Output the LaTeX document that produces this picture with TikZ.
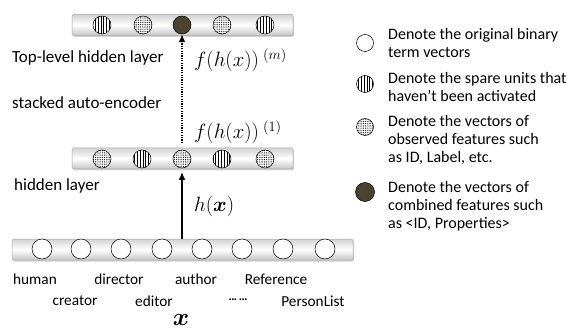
\documentclass[tikz,border=0pt]{standalone}
\usepackage{amsmath}
\usepackage{fontspec}
\setmainfont{Carlito}
\usetikzlibrary{patterns.meta,shadows,arrows.meta}
\definecolor{darkunit}{HTML}{4B4330}
\tikzset{
  bar/.style={draw=gray!70, line width=0.5pt, rounded corners=1.5pt,
    top color=gray!35, bottom color=gray!45, middle color=white,
    drop shadow={opacity=0.35, shadow xshift=1pt, shadow yshift=-1.5pt},
    minimum height=21pt, inner sep=0pt},
  unit/.style={circle, draw=black, line width=0.5pt, minimum size=18pt, inner sep=0pt},
  openu/.style={unit, fill=white, minimum size=20pt},
  vlines/.style={unit, fill=white, postaction={pattern={Lines[angle=90,distance=2.8pt,line width=0.6pt]}}},
  dotsu/.style={unit, fill=white, postaction={pattern={Dots[distance=1.8pt,radius=0.5pt]}}},
  darku/.style={unit, fill=darkunit},
  lbl/.style={font=\fontsize{17}{20}\selectfont, inner sep=0pt},
  wrd/.style={font=\fontsize{15.3}{18}\selectfont, inner sep=0pt},
  leg/.style={font=\fontsize{16}{18.3}\selectfont, inner sep=0pt, align=left, anchor=north west},
  mth/.style={inner sep=0pt, anchor=west, font=\fontsize{19.5}{22}\selectfont},
}
\begin{document}
\begin{tikzpicture}[x=1pt,y=-1pt]
\useasboundingbox (0,0) rectangle (568,334);
% bars
\node[bar, minimum width=221pt] (topbar) at (182.5,25) {};
\node[bar, minimum width=221pt] (midbar) at (182.5,158.5) {};
\node[bar, minimum width=341pt] (botbar) at (182.5,249.5) {};
% top units
\node[vlines] (t1) at (102,25) {};
\node[dotsu] (t2) at (143,25) {};
\node[darku] (t3) at (182,25) {};
\node[dotsu] (t4) at (222,25) {};
\node[vlines] (t5) at (265,25) {};
% middle units
\node[dotsu] (m1) at (102,159) {};
\node[vlines] (m2) at (142,159) {};
\node[dotsu] (m3) at (182,159) {};
\node[vlines] (m4) at (222,159) {};
\node[dotsu] (m5) at (265,159) {};
% bottom units
\foreach \i/\x in {1/42,2/81,3/121,4/162,5/202,6/242,7/283,8/325}
  \node[openu] (b\i) at (\x,249) {};
% arrows
\coordinate (solidend) at (182,172);
\draw[line width=1.3pt, -{Latex[length=8pt,width=7pt]}] (botbar.north -| m3) -- (solidend);
\coordinate (dotstart) at (182,143);
\draw[line width=1.8pt, dash pattern=on 1.2pt off 1.2pt, -{Latex[length=8pt,width=7pt]}] (dotstart) -- (t3.south);
% labels
\node[lbl, anchor=west] (ltop) at (12,58) {Top-level hidden layer};
\node[lbl, anchor=west] (lsae) at (12,103) {stacked auto-encoder};
\node[lbl, anchor=west] (lhid) at (14,186) {hidden layer};
\node[mth] (fm) at (194,60) {$f(h(x))^{\;(m)}$};
\node[mth] (f1) at (194,132) {$f(h(x))^{\;(1)}$};
\node[mth] (hx) at (194,206) {$h(\boldsymbol{x})$};
\node[inner sep=0pt, font=\fontsize{30}{32}\selectfont] (xx) at (181,320) {$\boldsymbol{x}$};
% words
\node[wrd] (w1) at (35,279) {human};
\node[wrd] (w2) at (119,279) {director};
\node[wrd] (w3) at (196,279) {author};
\node[wrd] (w4) at (276,279) {Reference};
\node[wrd] (w5) at (75,301) {creator};
\node[wrd] (w6) at (154,301) {editor};
\node[wrd] (w7) at (238,301) {\fontsize{10}{12}\selectfont\bfseries ··· ···};
\node[wrd] (w8) at (313,301) {PersonList};
% legend
\node[openu, minimum size=17pt] (g1) at (365,43) {};
\node[vlines, minimum size=17pt] (g2) at (365,84) {};
\node[dotsu, minimum size=17pt] (g3) at (365,127) {};
\node[darku, minimum size=19pt] (g4) at (365,192) {};
\node[leg] (gt1) at (388,28) {Denote the original binary\\term vectors};
\node[leg] (gt2) at (388,72) {Denote the spare units that\\haven’t been activated};
\node[leg] (gt3) at (388,115) {Denote the vectors of\\observed features such\\as ID, Label, etc.};
\node[leg] (gt4) at (388,181) {Denote the vectors of\\combined features such\\as <ID, Properties>};
\end{tikzpicture}
\end{document}
